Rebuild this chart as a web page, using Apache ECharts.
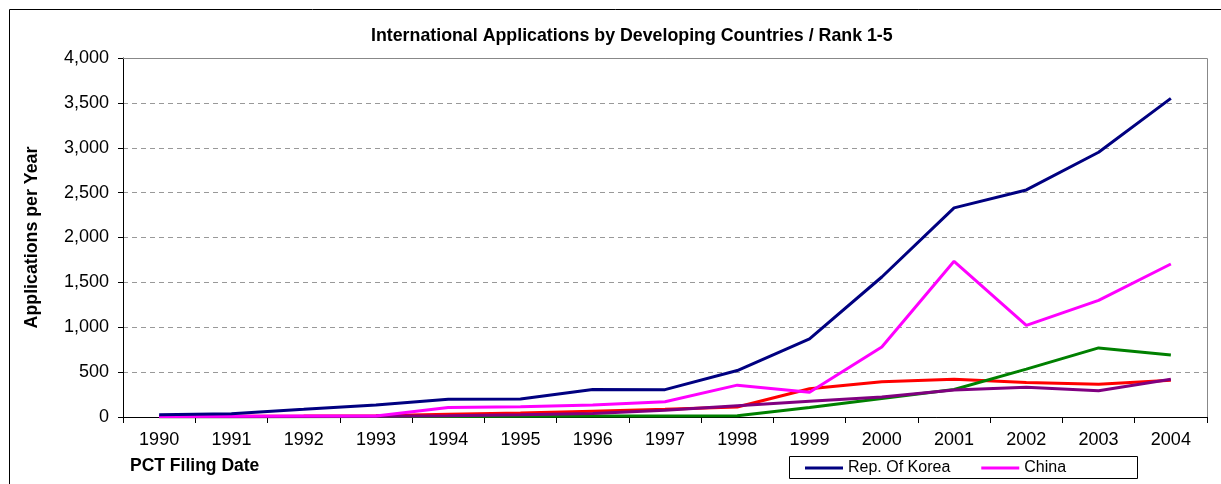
<!DOCTYPE html>
<html>
<head>
<meta charset="utf-8">
<script src="https://cdn.jsdelivr.net/npm/echarts@6/dist/echarts.min.js"></script>
<style>
  html, body { margin: 0; padding: 0; background: #fff; }
  #chart { width: 1221px; height: 484px; }
</style>
</head>
<body>
<div id="chart"></div>
<script>
const years = ['1990', '1991', '1992', '1993', '1994', '1995', '1996', '1997', '1998', '1999', '2000', '2001', '2002', '2003', '2004']
const korea = [25, 37, 85, 135, 197, 200, 306, 305, 518, 870, 1560, 2330, 2530, 2950, 3550]
const china = [6, 8, 10, 12, 105, 115, 135, 170, 355, 275, 780, 1735, 1020, 1300, 1705]
const southAfrica = [5, 8, 10, 15, 30, 45, 65, 85, 112, 315, 393, 420, 385, 365, 410]
const india = [2, 3, 4, 5, 6, 8, 10, 12, 15, 105, 206, 306, 533, 770, 690]
const singapore = [3, 4, 5, 8, 15, 25, 40, 75, 125, 175, 224, 300, 332, 292, 420]
const yTicks = [0, 500, 1000, 1500, 2000, 2500, 3000, 3500, 4000]

const font = 'Liberation Sans, Arial, sans-serif'

const chart = echarts.init(document.getElementById('chart'))

const mkLine = (name, data, color) => ({
  name,
  type: 'line',
  data,
  symbol: 'none',
  lineStyle: { color, width: 3 },
  itemStyle: { color },
  z: 3
})

chart.setOption({
  animation: false,
  backgroundColor: '#fff',
  title: {
    text: 'International Applications by Developing Countries / Rank 1-5',
    left: 366,
    top: 22,
    textStyle: { fontFamily: font, fontSize: 17.8, fontWeight: 'bold', color: '#000' }
  },
  legend: {
    data: ['Rep. Of Korea', 'China'],
    left: 805,
    top: 460,
    padding: 0,
    itemWidth: 38,
    itemHeight: 3,
    itemGap: 31,
    icon: 'rect',
    textStyle: { fontFamily: font, fontSize: 16, color: '#000' }
  },
  grid: { left: 123, right: 14, top: 58, bottom: 67 },
  xAxis: {
    type: 'category',
    data: years,
    boundaryGap: true,
    axisLine: { lineStyle: { color: '#000', width: 1 } },
    axisTick: { show: true, length: 6, lineStyle: { color: '#000' } },
    axisLabel: { fontFamily: font, fontSize: 18, color: '#000', margin: 14 },
    name: 'PCT Filing Date',
    nameLocation: 'start',
    nameGap: 0,
    nameTextStyle: {
      fontFamily: font, fontSize: 17.5, fontWeight: 'bold', color: '#000',
      align: 'left', verticalAlign: 'top', padding: [40, 0, 0, 7]
    }
  },
  yAxis: {
    type: 'value',
    min: yTicks[0],
    max: yTicks[yTicks.length - 1],
    interval: 500,
    axisLine: { show: true, lineStyle: { color: '#000', width: 1 } },
    axisTick: { show: true, length: 5, lineStyle: { color: '#000' } },
    axisLabel: {
      fontFamily: font, fontSize: 18, color: '#000', margin: 14,
      formatter: v => v.toLocaleString('en-US')
    },
    splitLine: { show: true, lineStyle: { color: '#999', type: [5, 4], width: 1 } },
    name: 'Applications per Year',
    nameLocation: 'middle',
    nameGap: 82,
    nameTextStyle: { fontFamily: font, fontSize: 17.8, fontWeight: 'bold', color: '#000' }
  },
  graphic: [
    // outer chart border
    { type: 'rect', shape: { x: 9.5, y: 9.5, width: 1240, height: 500 }, style: { fill: 'none', stroke: '#000', lineWidth: 1 }, z: 0 },
    // plot area top and right border
    { type: 'polyline', shape: { points: [[123, 58.5], [1207.5, 58.5], [1207.5, 417]] }, style: { fill: 'none', stroke: '#888', lineWidth: 1 }, z: 1 },
    // legend box
    { type: 'rect', shape: { x: 789.5, y: 456.5, width: 348, height: 22 }, style: { fill: 'none', stroke: '#000', lineWidth: 1 }, z: 1 }
  ],
  series: [
    mkLine('South Africa', southAfrica, '#FF0000'),
    mkLine('India', india, '#008000'),
    mkLine('Singapore', singapore, '#800080'),
    mkLine('China', china, '#FF00FF'),
    mkLine('Rep. Of Korea', korea, '#000080')
  ]
})

window.addEventListener('resize', () => chart.resize())
</script>
</body>
</html>
